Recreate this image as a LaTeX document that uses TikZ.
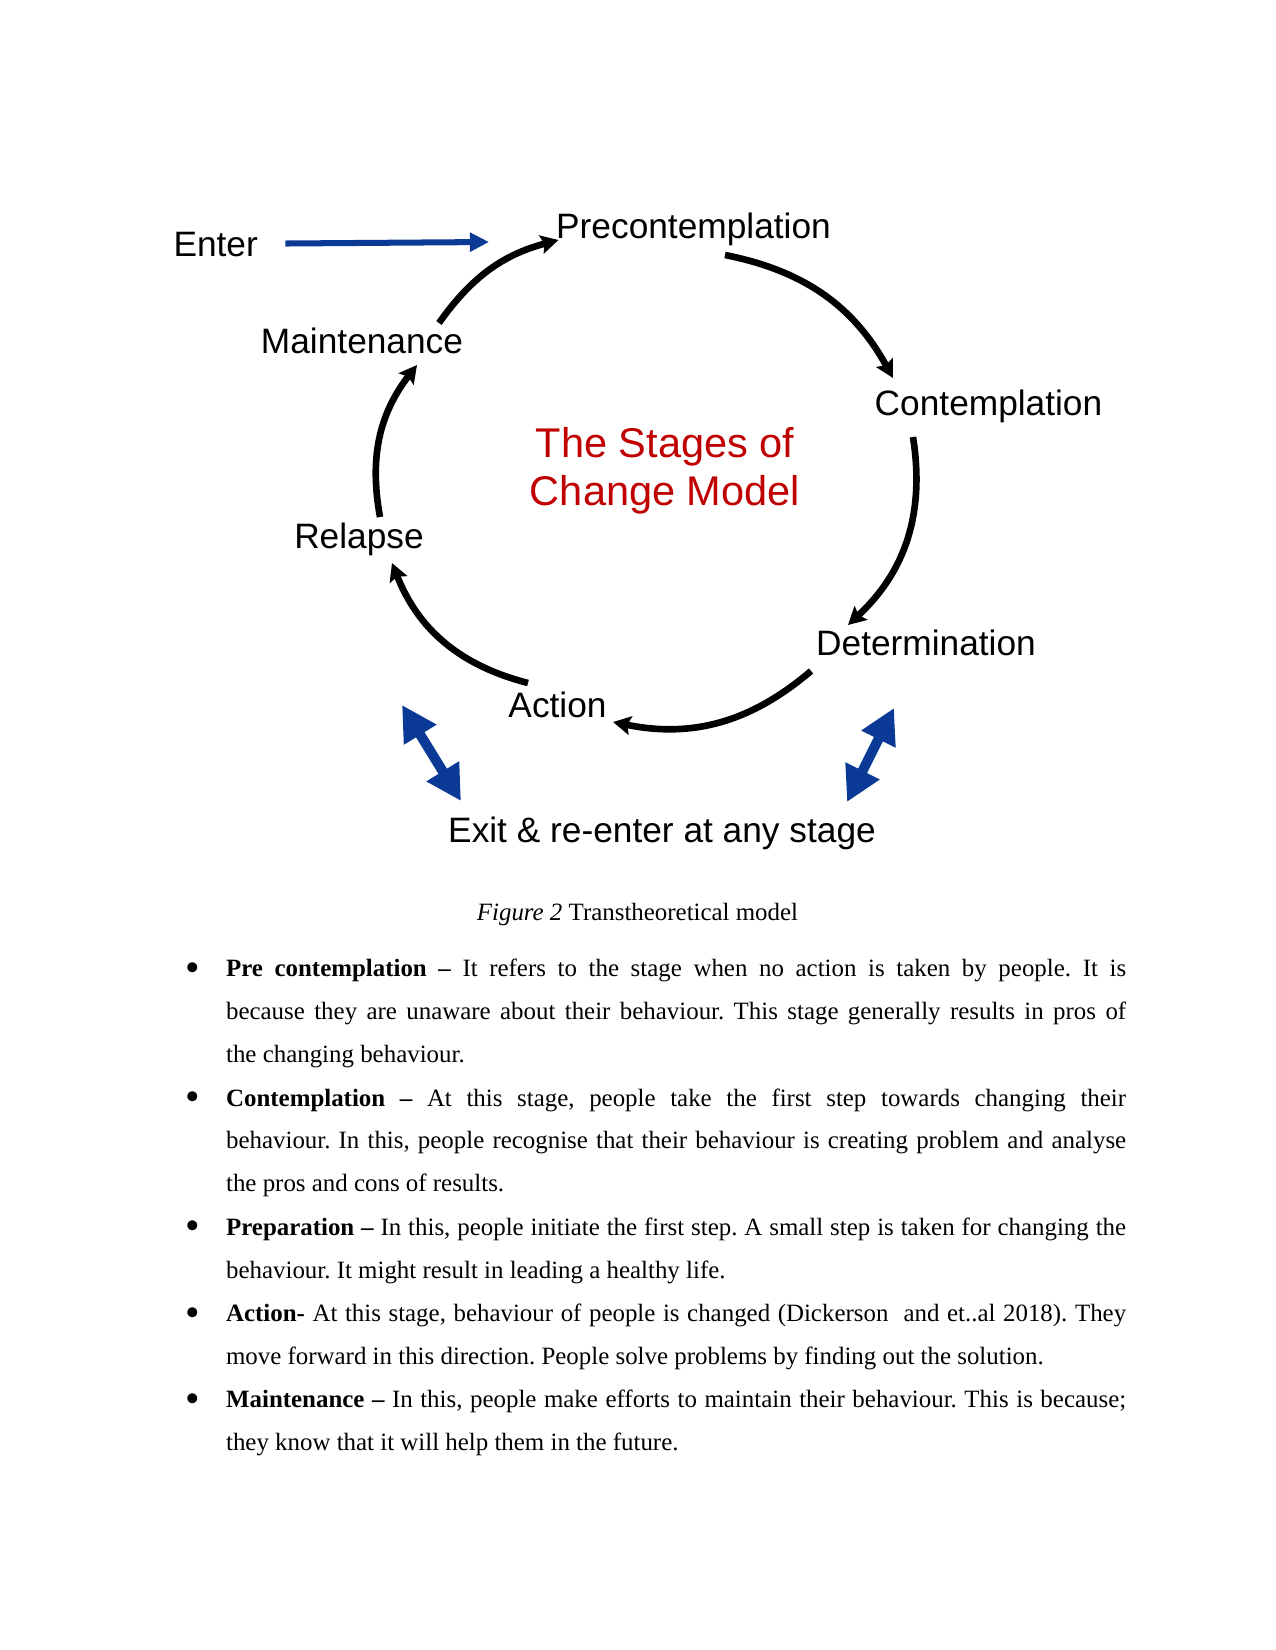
\documentclass[tikz,border=0pt]{standalone}
\usepackage{fontspec}
\setmainfont{Liberation Serif}
\newfontfamily\labelfont{Liberation Sans}
\usetikzlibrary{arrows.meta}
\definecolor{enterblue}{HTML}{0B3A96}
\definecolor{titlered}{HTML}{C00000}
\newcommand\itembullet{\llap{\raisebox{-2.2pt}{\fontsize{20}{20}\selectfont\textbullet}\hspace{12.8pt}}}
\frenchspacing

\begin{document}
\begin{tikzpicture}[
  x=0.16933mm, y=-0.16933mm,
  stage/.style={font=\labelfont\fontsize{17}{20}\selectfont,inner sep=0pt,anchor=base},
  heading/.style={font=\labelfont\fontsize{20}{23}\selectfont,text=titlered,align=center,inner sep=0pt,anchor=base},
  cyc/.style={-{Stealth[length=8.5pt,width=9pt,inset=1.5pt]},line width=3.2pt,bend left=#1},
  enterarr/.style={-{Triangle[length=9.2pt,width=8.8pt]},line width=2.9pt,color=enterblue},
  exitarr/.style={{Triangle[length=16.8pt,width=17.3pt]}-{Triangle[length=16.8pt,width=17.3pt]},line width=4.8pt,color=enterblue},
  para/.style={font=\fontsize{12}{20.69}\selectfont,text width=6in,align=justify,inner sep=0pt,anchor=base west}
]
\fill[white] (0,0) rectangle (1275,1650);

% stages round the circle
\node[stage] (enter) at (215.7,256) {Enter};
\node[stage] (pre) at (693.5,238) {Precontemplation};
\node[stage] (con) at (988.5,415) {Contemplation};
\node[stage] (det) at (926,655) {Determination};
\node[stage] (act) at (557.5,717) {Action};
\node[stage] (rel) at (359,548) {Relapse};
\node[stage] (main) at (362,353) {Maintenance};
\node[stage] (exit) at (662,842) {Exit \& re-enter at any stage};
\node[heading] (model) at (665,505) {The Stages of\\Change Model};

% arc ends
\coordinate (enterend) at (489,242);
\coordinate (main-out) at (439,323);
\coordinate (pre-in) at (558.5,240);
\coordinate (pre-out) at (725,255);
\coordinate (con-in) at (893,378);
\coordinate (con-out) at (913,437);
\coordinate (det-in) at (848,625);
\coordinate (det-out) at (811,671);
\coordinate (act-in) at (613,722);
\coordinate (act-out) at (528,683);
\coordinate (rel-in) at (392,563);
\coordinate (rel-out) at (380,517);
\coordinate (main-in) at (417,365);
\coordinate (exitl-top) at (402,705);
\coordinate (exitl-bot) at (461,801);
\coordinate (exitr-top) at (894,708);
\coordinate (exitr-bot) at (847,802);

\draw[enterarr,shorten <=13pt] (enter) -- (enterend);
\draw[cyc=20] (main-out) to (pre-in);
\draw[cyc=25] (pre-out) to (con-in);
\draw[cyc=28] (con-out) to (det-in);
\draw[cyc=26] (det-out) to (act-in);
\draw[cyc=27] (act-out) to (rel-in);
\draw[cyc=24] (rel-out) to (main-in);
\draw[exitarr] (exitl-top) -- (exitl-bot);
\draw[exitarr] (exitr-top) -- (exitr-bot);

% caption and list
\node[font=\fontsize{12}{14}\selectfont,inner sep=0pt,anchor=base] (cap) at (637.5,920.7) {\textit{Figure 2} Transtheoretical model};
\node[para] (p1) at (225.7,976.7) {\itembullet\textbf{Pre contemplation –} It refers to the stage when no action is taken by people. It is\linebreak because they are unaware about their behaviour. This stage generally results in pros of\linebreak the changing behaviour.};
\node[para] (p2) at (225.7,1106.0) {\itembullet\textbf{Contemplation –} At this stage, people take the first step towards changing their\linebreak behaviour. In this, people recognise that their behaviour is creating problem and analyse\linebreak the pros and cons of results.};
\node[para] (p3) at (225.7,1235.3) {\itembullet\textbf{Preparation –} In this, people initiate the first step. A small step is taken for changing the\linebreak behaviour. It might result in leading a healthy life.};
\node[para] (p4) at (225.7,1321.5) {\itembullet\textbf{Action-} At this stage, behaviour of people is changed (Dickerson\ \ and et..al 2018). They\linebreak move forward in this direction. People solve problems by finding out the solution.};
\node[para] (p5) at (225.7,1407.7) {\itembullet\textbf{Maintenance –} In this, people make efforts to maintain their behaviour. This is because;\linebreak they know that it will help them in the future.};
\end{tikzpicture}
\end{document}
